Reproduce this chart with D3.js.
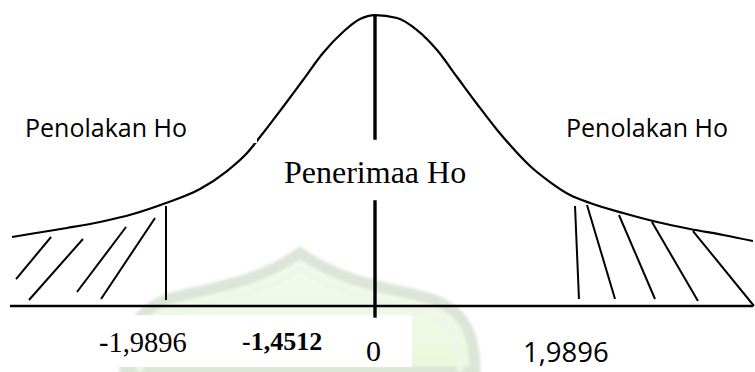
<!DOCTYPE html>
<html>
<head>
<meta charset="utf-8">
<script src="https://cdn.jsdelivr.net/npm/d3@7/dist/d3.min.js"></script>
<style>
  html, body { margin: 0; padding: 0; background: #fff; }
  svg { display: block; }
</style>
</head>
<body>
<svg id="chart" width="755" height="372"></svg>
<script>
// Critical value and test statistic
const criticalZ = 1.9896;
const testStat = -1.4512;

// Density curve read as (z, density) pairs
const curveZ = [-3.455, -3.256, -2.932, -2.618, -2.304, -1.990, -1.666, -1.409, -1.218, -1.095,
  -0.876, -0.685, -0.495, -0.305, -0.143, 0, 0.217, 0.414, 0.611, 0.808, 1.005, 1.211,
  1.330, 1.527, 1.724, 1.921, 2.118, 2.443, 2.778, 3.103, 3.428, 3.723];
const curveDensity = [0.0946, 0.0994, 0.107, 0.1152, 0.1261, 0.1412, 0.1604, 0.1851, 0.2098, 0.2317,
  0.2729, 0.3099, 0.3469, 0.3757, 0.3935, 0.399, 0.3949, 0.3784, 0.3510, 0.3140, 0.2770, 0.2400,
  0.2208, 0.1920, 0.1700, 0.1522, 0.1412, 0.1275, 0.1152, 0.1056, 0.0974, 0.0891];

// Hatch strokes in the rejection regions: [z1, d1, z2, d2]
const hatchLeft = [
  [-3.417, 0.037, -3.084, 0.0946],
  [-3.294, 0.0082, -2.780, 0.0919],
  [-2.837, 0.0192, -2.370, 0.1083],
  [-2.608, 0.0096, -2.094, 0.1207]
];
const hatchRight = [
  [1.970, 0.1371, 2.009, 0.0096],
  [2.088, 0.1385, 2.364, 0.0096],
  [2.403, 0.1248, 2.758, 0.0096],
  [2.728, 0.1152, 3.181, 0.0069],
  [3.132, 0.1028, 3.733, 0.0]
];

// Horizontal axis extent and centre-line pieces (density ranges)
const axisZ = [-3.475, 3.723];
const centreSegments = [[0.399, 0.228], [0.145, -0.016]];
const leftCutoffRange = [0.0082, 0.137];

// Text
const regionLabel = "Penolakan Ho";
const acceptLabel = "Penerimaa Ho";
const tickLabels = ["-1,9896", "-1,4512", "0", "1,9896"];

const svg = d3.select("#chart");

const x = d3.scaleLinear().domain([-criticalZ, 0, criticalZ]).range([166, 375, 577]);
const y = d3.scaleLinear().domain([0, 0.4]).range([306, 14.3]);

// Faint background emblem
const defs = svg.append("defs");
defs.append("filter").attr("id", "soft")
  .append("feGaussianBlur").attr("stdDeviation", 1.6);
const grad = defs.append("linearGradient").attr("id", "wmFill")
  .attr("x1", 0).attr("y1", 0).attr("x2", 0).attr("y2", 1);
grad.append("stop").attr("offset", "0%").attr("stop-color", "#f4f9f1");
grad.append("stop").attr("offset", "100%").attr("stop-color", "#ebf8dc");

const wm = svg.append("g").attr("filter", "url(#soft)");
const domePath = "M125,372 C125,335 135,312 165,300 C205,288 255,285 300,253 " +
  "C345,285 395,288 435,300 C465,312 475,335 475,372 Z";
wm.append("path").attr("d", domePath).attr("fill", "url(#wmFill)")
  .attr("stroke", "#dbe5d8").attr("stroke-width", 11);
wm.append("path")
  .attr("d", "M140,372 C140,340 150,322 178,312 C215,300 262,296 300,268 C338,296 385,300 422,312 C450,322 460,340 460,372")
  .attr("fill", "none").attr("stroke", "#eef6e8").attr("stroke-width", 6);

// White label box below the axis
svg.append("rect").attr("x", 100).attr("y", 315).attr("width", 312).attr("height", 52)
  .attr("fill", "#fff");

// Density curve
const pts = curveZ.map((z, i) => [z, curveDensity[i]]);
const line = d3.line().x(d => x(d[0])).y(d => y(d[1])).curve(d3.curveMonotoneX);
svg.append("path").datum(pts).attr("d", line)
  .attr("fill", "none").attr("stroke", "#000").attr("stroke-width", 2.2);

// small break in the curve
svg.append("rect").attr("x", 252).attr("y", 139).attr("width", 5).attr("height", 4).attr("fill", "#fff");

// Horizontal axis
svg.append("line")
  .attr("x1", x(axisZ[0])).attr("x2", x(axisZ[1]))
  .attr("y1", y(0)).attr("y2", y(0))
  .attr("stroke", "#000").attr("stroke-width", 2.4);

// Hatching
const hatchG = svg.append("g").attr("stroke", "#000").attr("stroke-width", 2);
hatchG.selectAll("line.h").data(hatchLeft.concat(hatchRight)).join("line")
  .attr("class", "h")
  .attr("x1", d => x(d[0])).attr("y1", d => y(d[1]))
  .attr("x2", d => x(d[2])).attr("y2", d => y(d[3]));

// Left critical boundary
svg.append("line")
  .attr("x1", x(-criticalZ)).attr("x2", x(-criticalZ))
  .attr("y1", y(leftCutoffRange[0])).attr("y2", y(leftCutoffRange[1]))
  .attr("stroke", "#000").attr("stroke-width", 2);

// Centre line at z = 0
svg.selectAll("line.c").data(centreSegments).join("line")
  .attr("class", "c")
  .attr("x1", x(0)).attr("x2", x(0))
  .attr("y1", d => y(d[0])).attr("y2", d => y(d[1]))
  .attr("stroke", "#000").attr("stroke-width", 3.4);

// Region labels
const sans = "'Open Sans', sans-serif";
const serif = "'Liberation Serif', 'Times New Roman', serif";
svg.append("text").attr("x", 25).attr("y", 137).text(regionLabel)
  .attr("font-family", sans).attr("font-size", 25).attr("fill", "#000");
svg.append("text").attr("x", 566).attr("y", 137).text(regionLabel)
  .attr("font-family", sans).attr("font-size", 25).attr("fill", "#000");
svg.append("text").attr("x", 284).attr("y", 183).text(acceptLabel)
  .attr("font-family", serif).attr("font-size", 32).attr("fill", "#000");

// Value labels
svg.append("text").attr("x", 99).attr("y", 352).text(tickLabels[0])
  .attr("font-family", serif).attr("font-size", 28.5).attr("fill", "#000");
svg.append("text").attr("x", 242).attr("y", 350).text(tickLabels[1])
  .attr("font-family", serif).attr("font-size", 26).attr("font-weight", "bold").attr("fill", "#000");
svg.append("text").attr("x", 366).attr("y", 361).text(tickLabels[2])
  .attr("font-family", serif).attr("font-size", 30).attr("fill", "#000");
svg.append("text").attr("x", 523).attr("y", 362).text(tickLabels[3])
  .attr("font-family", sans).attr("font-size", 27.5).attr("fill", "#000");
</script>
</body>
</html>
